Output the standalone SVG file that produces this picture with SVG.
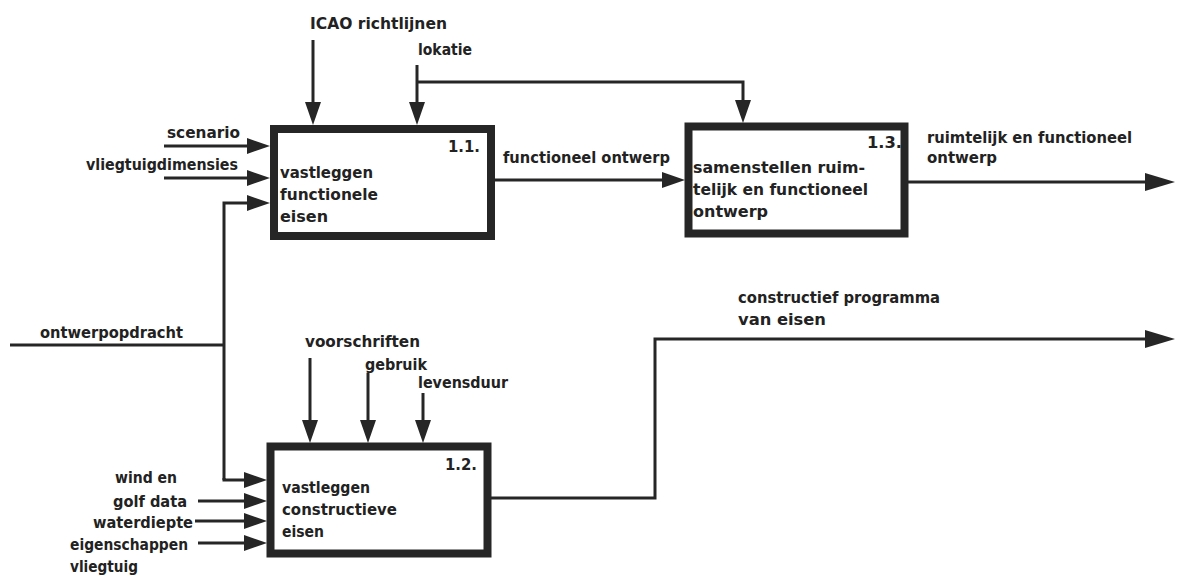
<svg xmlns="http://www.w3.org/2000/svg" width="1177" height="576" viewBox="0 0 1177 576">
  <style>
    .bg { fill: #ffffff; }
    .box { fill: #ffffff; stroke: #262626; stroke-width: 8; }
    .wire { fill: none; stroke: #262626; stroke-width: 3; }
    .t { font-family: "DejaVu Sans Condensed", "DejaVu Sans", sans-serif; font-weight: bold; font-size: 16px; fill: #222222; }
  </style>
  <defs>
    <!-- filled triangular arrowhead; tip sits 10px past the line end -->
    <marker id="arrow" markerUnits="userSpaceOnUse" markerWidth="26" markerHeight="18" refX="13" refY="8" orient="auto">
      <path d="M0,0 L23,8 L0,16 Z" fill="#262626"/>
    </marker>
    <!-- larger arrowhead for the outgoing results; tip 10px past the line end -->
    <marker id="arrow-big" markerUnits="userSpaceOnUse" markerWidth="32" markerHeight="20" refX="20" refY="9" orient="auto">
      <path d="M0,0 L30,9 L0,18 Z" fill="#262626"/>
    </marker>
  </defs>

  <rect class="bg" x="0" y="0" width="1177" height="576"/>

  <!-- connectors -->
  <g id="connectors">
    <!-- controls into 1.1 -->
    <line class="wire" x1="313" y1="40" x2="313" y2="115" marker-end="url(#arrow)"/>
    <line class="wire" x1="417" y1="65" x2="417" y2="115" marker-end="url(#arrow)"/>
    <polyline class="wire" points="417,82 743,82 743,113" marker-end="url(#arrow)"/>
    <!-- inputs into 1.1 -->
    <line class="wire" x1="164" y1="146" x2="260" y2="146" marker-end="url(#arrow)"/>
    <line class="wire" x1="164" y1="178" x2="260" y2="178" marker-end="url(#arrow)"/>
    <!-- ontwerpopdracht split to 1.1 and 1.2 -->
    <line class="wire" x1="10" y1="345" x2="224" y2="345"/>
    <polyline class="wire" points="224,480 224,203 260,203" marker-end="url(#arrow)"/>
    <polyline class="wire" points="224,478 224,480 257,480" marker-end="url(#arrow)"/>
    <!-- 1.1 to 1.3 -->
    <line class="wire" x1="495" y1="180" x2="675" y2="180" marker-end="url(#arrow)"/>
    <!-- output of 1.3 -->
    <line class="wire" x1="908" y1="182" x2="1165" y2="182" marker-end="url(#arrow-big)"/>
    <!-- controls into 1.2 -->
    <line class="wire" x1="310" y1="358" x2="310" y2="433" marker-end="url(#arrow)"/>
    <line class="wire" x1="368" y1="373" x2="368" y2="433" marker-end="url(#arrow)"/>
    <line class="wire" x1="423" y1="393" x2="423" y2="433" marker-end="url(#arrow)"/>
    <!-- inputs into 1.2 -->
    <line class="wire" x1="198" y1="501" x2="257" y2="501" marker-end="url(#arrow)"/>
    <line class="wire" x1="195" y1="521" x2="257" y2="521" marker-end="url(#arrow)"/>
    <line class="wire" x1="198" y1="543" x2="257" y2="543" marker-end="url(#arrow)"/>
    <!-- output of 1.2 -->
    <polyline class="wire" points="491,498 655,498 655,339 1165,339" marker-end="url(#arrow-big)"/>
  </g>

  <!-- activity 1.1 -->
  <g id="node-1-1">
    <rect class="box" x="274" y="129" width="217" height="107"/>
    <text class="t" x="448" y="152" textLength="32" lengthAdjust="spacingAndGlyphs">1.1.</text>
    <text class="t" x="280" y="178" textLength="93" lengthAdjust="spacingAndGlyphs">vastleggen</text>
    <text class="t" x="280" y="200" textLength="98" lengthAdjust="spacingAndGlyphs">functionele</text>
    <text class="t" x="280" y="222" textLength="48" lengthAdjust="spacingAndGlyphs">eisen</text>
  </g>

  <!-- activity 1.3 -->
  <g id="node-1-3">
    <rect class="box" x="688.5" y="126.5" width="216" height="107"/>
    <text class="t" x="867" y="148" textLength="35" lengthAdjust="spacingAndGlyphs">1.3.</text>
    <text class="t" x="693" y="173" textLength="172" lengthAdjust="spacingAndGlyphs">samenstellen ruim-</text>
    <text class="t" x="693" y="195" textLength="175" lengthAdjust="spacingAndGlyphs">telijk en functioneel</text>
    <text class="t" x="693" y="217" textLength="75" lengthAdjust="spacingAndGlyphs">ontwerp</text>
  </g>

  <!-- activity 1.2 -->
  <g id="node-1-2">
    <rect class="box" x="270.5" y="446.5" width="217" height="107"/>
    <text class="t" x="445" y="470" textLength="32" lengthAdjust="spacingAndGlyphs">1.2.</text>
    <text class="t" x="282" y="493" textLength="88" lengthAdjust="spacingAndGlyphs">vastleggen</text>
    <text class="t" x="282" y="515" textLength="115" lengthAdjust="spacingAndGlyphs">constructieve</text>
    <text class="t" x="282" y="537" textLength="42" lengthAdjust="spacingAndGlyphs">eisen</text>
  </g>

  <!-- arrow labels -->
  <g id="labels">
    <text class="t" x="310" y="29" textLength="137" lengthAdjust="spacingAndGlyphs">ICAO richtlijnen</text>
    <text class="t" x="418" y="55" textLength="54" lengthAdjust="spacingAndGlyphs">lokatie</text>
    <text class="t" x="167" y="138" textLength="73" lengthAdjust="spacingAndGlyphs">scenario</text>
    <text class="t" x="86" y="170" textLength="152" lengthAdjust="spacingAndGlyphs">vliegtuigdimensies</text>
    <text class="t" x="503" y="163" textLength="167" lengthAdjust="spacingAndGlyphs">functioneel ontwerp</text>
    <text class="t" x="927" y="143" textLength="205" lengthAdjust="spacingAndGlyphs">ruimtelijk en functioneel</text>
    <text class="t" x="927" y="163" textLength="70" lengthAdjust="spacingAndGlyphs">ontwerp</text>
    <text class="t" x="40" y="338" textLength="143" lengthAdjust="spacingAndGlyphs">ontwerpopdracht</text>
    <text class="t" x="738" y="303" textLength="202" lengthAdjust="spacingAndGlyphs">constructief programma</text>
    <text class="t" x="738" y="325" textLength="88" lengthAdjust="spacingAndGlyphs">van eisen</text>
    <text class="t" x="305" y="347" textLength="115" lengthAdjust="spacingAndGlyphs">voorschriften</text>
    <text class="t" x="365" y="370" textLength="62" lengthAdjust="spacingAndGlyphs">gebruik</text>
    <text class="t" x="418" y="388" textLength="90" lengthAdjust="spacingAndGlyphs">levensduur</text>
    <text class="t" x="115" y="483" textLength="62" lengthAdjust="spacingAndGlyphs">wind en</text>
    <text class="t" x="113" y="507" textLength="74" lengthAdjust="spacingAndGlyphs">golf data</text>
    <text class="t" x="93" y="528" textLength="100" lengthAdjust="spacingAndGlyphs">waterdiepte</text>
    <text class="t" x="70" y="550" textLength="118" lengthAdjust="spacingAndGlyphs">eigenschappen</text>
    <text class="t" x="70" y="572" textLength="68" lengthAdjust="spacingAndGlyphs">vliegtuig</text>
  </g>
</svg>
